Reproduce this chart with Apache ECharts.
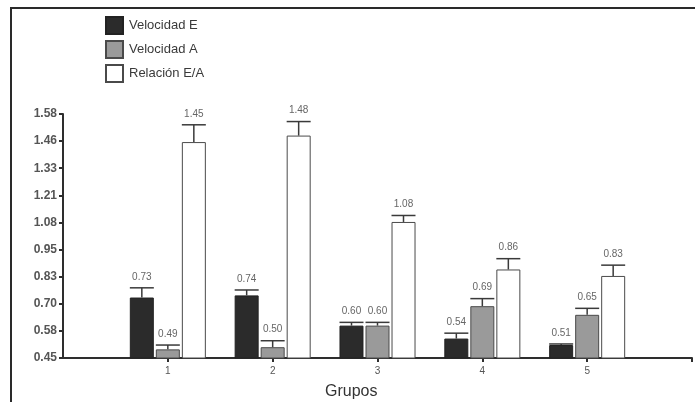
<!DOCTYPE html>
<html>
<head>
<meta charset="utf-8">
<script src="https://cdn.jsdelivr.net/npm/echarts@6/dist/echarts.min.js"></script>
<style>
  html, body { margin: 0; padding: 0; background: #fff; }
  #chart { width: 695px; height: 402px; }
</style>
</head>
<body>
<div id="chart"></div>
<script>
// Groups along the x axis (0 and 6 are padding slots at either end)
const groups = ['0', '1', '2', '3', '4', '5', '6'];
const groupIndex = [1, 2, 3, 4, 5];

// Mean values per group
const velocidadE = [0.73, 0.74, 0.60, 0.54, 0.51];
const velocidadA = [0.49, 0.50, 0.60, 0.69, 0.65];
const relacionEA = [1.45, 1.48, 1.08, 0.86, 0.83];

// Upper end of each error bar
const errorE  = [0.775, 0.765, 0.615, 0.565, 0.515];
const errorA  = [0.510, 0.530, 0.615, 0.725, 0.680];
const errorEA = [1.530, 1.545, 1.110, 0.910, 0.880];

const seriesNames = ['Velocidad E', 'Velocidad A', 'Relación E/A'];

// Y axis tick labels (evenly spaced between min and max)
const yTickLabels = ['0.45', '0.58', '0.70', '0.83', '0.95', '1.08', '1.21', '1.33', '1.46', '1.58'];
const yMin = 0.45, yMax = 1.58;
const yStep = (yMax - yMin) / (yTickLabels.length - 1);
const yTicks = yTickLabels.map((_, i) => yMin + i * yStep);

const FONT = '"Liberation Sans", Arial, sans-serif';
const BAR_W = 24;
const BAR_STEP = 26;

function barData(vals) {
  return groupIndex.map((g, i) => [g, vals[i]]);
}
function errData(vals, tops) {
  return groupIndex.map((g, i) => [g, vals[i], tops[i]]);
}

function errorSeries(name, vals, tops, offset) {
  return {
    type: 'custom',
    name: name + ' error',
    data: errData(vals, tops),
    z: 5,
    renderItem: function (params, api) {
      const base = api.coord([api.value(0), api.value(1)]);
      const top = api.coord([api.value(0), api.value(2)]);
      const x = base[0] + offset;
      const half = BAR_W / 2;
      const lineStyle = { stroke: '#3a3a3a', lineWidth: 1.5 };
      return {
        type: 'group',
        children: [
          { type: 'line', shape: { x1: x, y1: base[1], x2: x, y2: top[1] }, style: lineStyle },
          { type: 'line', shape: { x1: x - half, y1: top[1], x2: x + half, y2: top[1] }, style: lineStyle },
          {
            type: 'text',
            x: x, y: top[1] - 6,
            style: {
              text: api.value(1).toFixed(2),
              fill: '#666', font: '10px ' + FONT,
              align: 'center', verticalAlign: 'bottom'
            }
          }
        ]
      };
    }
  };
}

const chart = echarts.init(document.getElementById('chart'), null, { renderer: 'canvas' });

chart.setOption({
  backgroundColor: '#fff',
  animation: false,
  textStyle: { fontFamily: FONT },
  grid: { left: 63, right: 1, top: 114, bottom: 44, containLabel: false },
  legend: {
    data: seriesNames,
    orient: 'vertical',
    left: 105, top: 16, padding: 0,
    itemWidth: 17, itemHeight: 17, itemGap: 5,
    icon: 'rect',
    textStyle: { fontSize: 13, color: '#3a3a3a', fontFamily: FONT, padding: [0, 0, 0, 1] }
  },
  xAxis: {
    type: 'category',
    data: groups,
    boundaryGap: false,
    axisLine: { lineStyle: { color: '#2e2e2e', width: 2 } },
    axisTick: {
      length: 4, alignWithLabel: true,
      lineStyle: { color: '#2e2e2e', width: 2 },
      interval: function (i) { return i > 0; }
    },
    axisLabel: {
      color: '#555', fontSize: 10, margin: 8,
      interval: 0,
      formatter: function (v) { return (v === '0' || v === '6') ? '' : v; }
    },
    splitLine: { show: false }
  },
  yAxis: {
    type: 'value',
    min: yMin, max: yMax,
    axisLine: { show: true, lineStyle: { color: '#2e2e2e', width: 2 } },
    axisTick: { show: true, length: 4, customValues: yTicks, lineStyle: { color: '#2e2e2e', width: 2 } },
    axisLabel: {
      customValues: yTicks,
      color: '#555', fontSize: 12, fontWeight: 'bold', margin: 6,
      formatter: function (v) {
        const i = Math.round((v - yMin) / yStep);
        return yTickLabels[i];
      }
    },
    splitLine: { show: false }
  },
  series: [
    {
      type: 'bar', name: seriesNames[0], data: barData(velocidadE),
      barWidth: BAR_W, barGap: '8.4%',
      itemStyle: { color: '#2b2b2b', borderColor: '#222', borderWidth: 1 }
    },
    {
      type: 'bar', name: seriesNames[1], data: barData(velocidadA),
      barWidth: BAR_W, barGap: '8.4%',
      itemStyle: { color: '#9a9a9a', borderColor: '#4a4a4a', borderWidth: 1 }
    },
    {
      type: 'bar', name: seriesNames[2], data: barData(relacionEA),
      barWidth: BAR_W, barGap: '8.4%',
      itemStyle: { color: '#ffffff', borderColor: '#4a4a4a', borderWidth: 1 }
    },
    errorSeries(seriesNames[0], velocidadE, errorE, -BAR_STEP),
    errorSeries(seriesNames[1], velocidadA, errorA, 0),
    errorSeries(seriesNames[2], relacionEA, errorEA, BAR_STEP)
  ],
  graphic: [
    {
      type: 'polyline',
      shape: { points: [[11, 402], [11, 8], [695, 8]] },
      style: { stroke: '#2a2a2a', lineWidth: 2, fill: null },
      silent: true
    },
    {
      type: 'text',
      left: 325, top: 384,
      style: { text: 'Grupos', fill: '#333', font: '16px ' + FONT }
    }
  ]
});
</script>
</body>
</html>
